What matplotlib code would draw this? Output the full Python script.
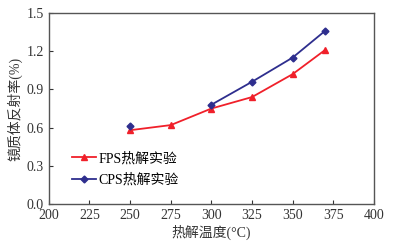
import matplotlib
matplotlib.use("Agg")
import matplotlib.pyplot as plt

plt.rcParams['font.family'] = ['Liberation Serif', 'Noto Sans CJK SC']

# data
temp_fps = [250, 275, 300, 325, 350, 370]
ro_fps = [0.58, 0.62, 0.75, 0.84, 1.02, 1.21]

temp_cps = [250, 300, 325, 350, 370]
ro_cps = [0.61, 0.78, 0.96, 1.15, 1.36]

xticks = [200, 225, 250, 275, 300, 325, 350, 375, 400]
yticks = [0.0, 0.3, 0.6, 0.9, 1.2, 1.5]

red = '#f0202a'
blue = '#2e2e8e'

fig = plt.figure(figsize=(3.94, 2.45), dpi=100)
ax = fig.add_axes([0.124, 0.167, 0.825, 0.78])

ax.plot(temp_fps, ro_fps, '-', color=red, lw=1.3, marker='^', ms=5,
        label='FPS热解实验')
# CPS: first point stands alone, line starts at 300
ax.plot(temp_cps[1:], ro_cps[1:], '-', color=blue, lw=1.3, marker='D', ms=3.5,
        label='CPS热解实验')
ax.plot(temp_cps[:1], ro_cps[:1], 'D', color=blue, ms=3.5)

ax.set_xlim(200, 400)
ax.set_ylim(0.0, 1.5)
ax.set_xticks(xticks)
ax.set_yticks(yticks)
ax.set_yticklabels(['%.1f' % v for v in yticks])
ax.tick_params(direction='in', length=3, labelsize=10, colors='#333333',
               width=0.8)
for s in ax.spines.values():
    s.set_color('#555555')
    s.set_linewidth(1.0)

ax.set_xlabel('热解温度(°C)', fontsize=10, color='#333333', labelpad=2)
ax.set_ylabel('镜质体反射率(%)', fontsize=10, color='#333333', labelpad=3)

ax.legend(loc='upper left', bbox_to_anchor=(0.05, 0.31), frameon=False,
          fontsize=10, handlelength=1.7, labelspacing=0.6, borderpad=0,
          handletextpad=0.2)

fig.savefig('out.png', dpi=100)
